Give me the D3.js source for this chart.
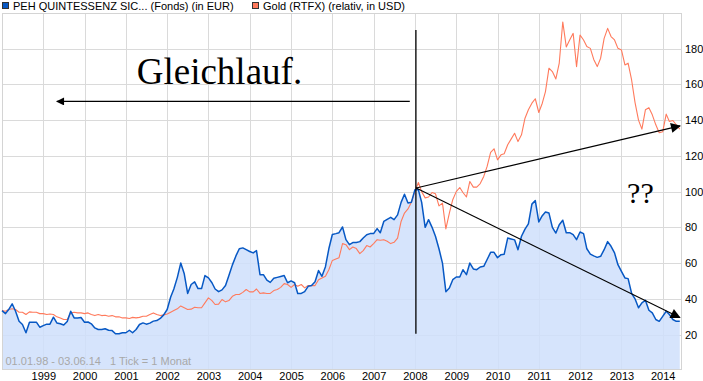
<!DOCTYPE html>
<html><head><meta charset="utf-8">
<script src="https://cdn.jsdelivr.net/npm/d3@7"></script>
<style>
html,body{margin:0;padding:0;background:#fff;}
svg{display:block;font-family:"Liberation Sans",Arial,sans-serif;}
</style></head>
<body>
<svg id="chart" width="703" height="381"></svg>
<script>
// ---- DATA (monthly, starting Jan 1998) ----
const startYear = 1998;
const fundName = "PEH QUINTESSENZ SIC... (Fonds) (in EUR)";
const goldName = "Gold (RTFX) (relativ, in USD)";
const fundValues = [
33.4,31.7,34,37.2,33,27.4,25.6,21,26.9,26.9,26.9,24.1,
25,25.8,25.8,29.7,26.5,26,25.3,27.3,33,29.3,29.3,29.5,
26.9,27,26,23.7,22.8,22.8,23.2,22.4,22.2,20.4,20.4,21,
21,22.4,21,22.8,25.6,26.5,25.8,26.4,27.5,27.8,29,31,
34,41,45.5,52,60,54,43,48,49.5,45.7,45.7,53,
51.7,49,45.5,44,45,47.4,53,59,64,68,68.5,67.5,
66.5,65.7,67,53.5,53.5,50.4,49.2,51.5,52,52.5,53,49,
50,49,43,43,44,47,47.4,49.5,55.8,52.6,58,68,
76,76.5,77,80.2,73.1,70.3,71.5,71.5,72,74,75.9,76.5,
76.5,79.3,77,83.3,84.5,85.6,84.3,87,94,98.5,93.6,94,
101,101,94,80,84.3,80,75,68,60,44,46,50.7,
52.2,52.2,56.3,53.5,60,56.7,56.3,57.8,58.2,62,66,66,
63,64.7,65,74,73.5,73,67.5,75,79,82,93,95,
83,86.5,88.6,88,80,76.8,81.5,84,77,77,75.9,73.1,
77.4,76.5,68,65,64,63.2,63.8,67.5,72,69.4,65.7,59.1,
55.4,51.7,51.3,43,40,35,37.7,39.2,33.6,32.1,28.4,27.4,
30.2,33,31.2,28.4,27.4,27.4
];
const goldValues = [
33.4,33,34,34.4,34,32.5,32.5,31.2,32.7,32.5,32.5,31.7,
31.7,31.2,31.5,31.2,29.9,29.3,28.4,28.4,32.1,32.5,32.1,32.1,
31.7,32.1,31.2,30.6,31.2,30.6,30.8,30.2,30.6,29.9,29.9,29.3,
29.3,29,29.6,29.3,29.6,30.2,30.2,31.2,32.1,31.2,30.6,31,
31.5,32.5,33.4,34.4,36,35,34,34.2,35.3,35,35,37.7,
40.5,39,36.8,37,39.6,38.3,39,41.4,42.4,42.4,43.6,45.2,
43.9,43.9,45.5,43,43.3,43,43,44.6,45.2,46.4,48.5,48,
46.4,48,47,48,46.1,47.4,47.4,47.4,50.7,51.7,52.6,56.3,
61.5,62.3,63,70.9,70.3,67.5,69,68.1,65.3,67,69.8,69,
70.9,73.1,72.8,73.1,72.2,70.9,71.6,74,83.3,88,90.3,94,
100,105.1,100,96.5,97,99.5,98.8,92,93.6,79.1,88,95.5,
100,102.3,99.5,97,105.7,102.5,102.5,104.5,108.5,114.1,122,124,
117.8,120.6,121.2,126.2,129.4,132.7,128,131.8,141.1,145.8,149.5,152,
144.3,149.5,156,169.1,167.2,163.1,172,195,181,184.9,188.6,170,
187.7,184.9,181.2,180.2,174,170,174.7,185.8,191.4,186.8,184.9,180.2,
179.3,170.9,171.9,162.5,150,140,135,145.8,147,143,137.4,133,
133.5,143.4,139.3,139.8,137.4,135
];
const yTicks = [20,40,60,80,100,120,140,160,180];
const yearTicks = [1999,2000,2001,2002,2003,2004,2005,2006,2007,2008,2009,2010,2011,2012,2013,2014];
const rangeLabel = "01.01.98 - 03.06.14   1 Tick = 1 Monat";
const noteText = "Gleichlauf.";
const questionText = "??";

// ---- SCALES ----
const svg = d3.select("#chart");
const L = 2, R = 681, T = 13, B = 369;
const x = d3.scaleTime().domain([new Date(1998,0,1), new Date(2014,5,3)]).range([L, 680]);
const y = d3.scaleLinear().domain([0.7, 200]).range([B, T]);
const dateOf = i => new Date(startYear, i, 1);

const defs = svg.append("defs");
defs.append("marker").attr("id","ah").attr("viewBox","0 0 10 10")
  .attr("refX",9).attr("refY",5).attr("markerWidth",11).attr("markerHeight",10)
  .attr("markerUnits","userSpaceOnUse").attr("orient","auto")
  .append("path").attr("d","M0,0 L10,5 L0,10 Z").attr("fill","#000");
defs.append("marker").attr("id","ahs").attr("viewBox","0 0 10 10")
  .attr("refX",9).attr("refY",5).attr("markerWidth",9).attr("markerHeight",8)
  .attr("markerUnits","userSpaceOnUse").attr("orient","auto")
  .append("path").attr("d","M0,0 L10,5 L0,10 Z").attr("fill","#000");

// ---- GRID ----
const grid = svg.append("g").attr("stroke","#dadada").attr("stroke-width",1).attr("shape-rendering","crispEdges");
[1998, ...yearTicks].forEach(yr => {
  const gx = Math.round(x(new Date(yr,0,1))) + 0.5;
  grid.append("line").attr("x1",gx).attr("x2",gx).attr("y1",T).attr("y2",B);
});
[...yTicks, 200].forEach(v => {
  const gy = Math.round(y(v)) + 0.5;
  grid.append("line").attr("x1",L).attr("x2",R).attr("y1",gy).attr("y2",gy);
});

// ---- AREA + LINES ----
const area = d3.area().x((d,i)=>x(dateOf(i))).y0(B).y1(d=>y(d));
svg.append("path").datum(fundValues).attr("d",area).attr("fill","#cfdffc").attr("fill-opacity",0.85);

// frame
svg.append("rect").attr("x",L+0.5).attr("y",T+0.5).attr("width",R-L).attr("height",B-T)
  .attr("fill","none").attr("stroke","#d4d4d4").attr("shape-rendering","crispEdges");

const line = d3.line().x((d,i)=>x(dateOf(i))).y(d=>y(d));
svg.append("path").datum(goldValues).attr("d",line).attr("fill","none")
  .attr("stroke","#ff7a5c").attr("stroke-width",1.1).attr("stroke-linejoin","round");
svg.append("path").datum(fundValues).attr("d",line).attr("fill","none")
  .attr("stroke","#0758c4").attr("stroke-width",1.5).attr("stroke-linejoin","round");

// ---- AXES (labels only) ----
const yAxis = d3.axisRight(y).tickValues(yTicks).tickSize(0).tickPadding(4);
const ga = svg.append("g").attr("transform",`translate(${R},0)`).call(yAxis);
ga.select(".domain").remove();
ga.selectAll("text").attr("font-size",11).attr("fill","#000").attr("font-family","Liberation Sans, Arial, sans-serif");

const xAxis = d3.axisBottom(x).tickValues(yearTicks.map(yr=>new Date(yr,0,1)))
  .tickFormat(d3.timeFormat("%Y")).tickSize(0).tickPadding(3);
const gx = svg.append("g").attr("transform",`translate(0,${B})`).call(xAxis);
gx.select(".domain").remove();
gx.selectAll("text").attr("font-size",11).attr("fill","#000").attr("font-family","Liberation Sans, Arial, sans-serif");

// range label
svg.append("text").attr("x",x(new Date(1998,1,1))).attr("y",y(3)).text(rangeLabel)
  .attr("font-size",11).attr("fill","#a8a8a8").attr("xml:space","preserve").style("white-space","pre");

// ---- LEGEND ----
const leg = svg.append("g").attr("font-size",11);
leg.append("rect").attr("x",2.5).attr("y",2.5).attr("width",6).attr("height",6).attr("fill","#0758c4").attr("stroke","#333");
leg.append("text").attr("x",13).attr("y",10).text(fundName).attr("fill","#000");
leg.append("rect").attr("x",252.5).attr("y",2.5).attr("width",6).attr("height",6).attr("fill","#ff7a5c").attr("stroke","#333");
leg.append("text").attr("x",263).attr("y",10).text(goldName).attr("fill","#000");

// ---- ANNOTATIONS ----
const ann = svg.append("g").attr("stroke","#000").attr("fill","none");
const pivot = [new Date(2008,0,12), 102];
ann.append("line").attr("x1",x(new Date(2008,0,10))).attr("x2",x(new Date(2008,0,10)))
  .attr("y1",y(190.5)).attr("y2",y(20.5)).attr("stroke-width",1.3);
ann.append("line").attr("x1",x(new Date(2007,10,17))).attr("x2",x(new Date(1999,4,1)))
  .attr("y1",y(150.5)).attr("y2",y(150.5)).attr("stroke-width",1.2).attr("marker-end","url(#ahs)");
ann.append("line").attr("x1",x(pivot[0])).attr("y1",y(pivot[1]))
  .attr("x2",x(new Date(2014,5,3))).attr("y2",y(136.8)).attr("stroke-width",1.1).attr("marker-end","url(#ah)");
ann.append("line").attr("x1",x(pivot[0])).attr("y1",y(pivot[1]))
  .attr("x2",x(new Date(2014,5,1))).attr("y2",y(29.5)).attr("stroke-width",1.1).attr("marker-end","url(#ah)");

svg.append("text").attr("x",x(new Date(2001,3,7))).attr("y",y(160.3)).text(noteText)
  .attr("font-family","Liberation Serif, Times New Roman, serif").attr("font-size",37).attr("fill","#000");
svg.append("text").attr("x",x(new Date(2013,1,20))).attr("y",y(93.8)).text(questionText)
  .attr("font-family","Liberation Serif, Times New Roman, serif").attr("font-size",30).attr("fill","#000");
</script>
</body></html>
